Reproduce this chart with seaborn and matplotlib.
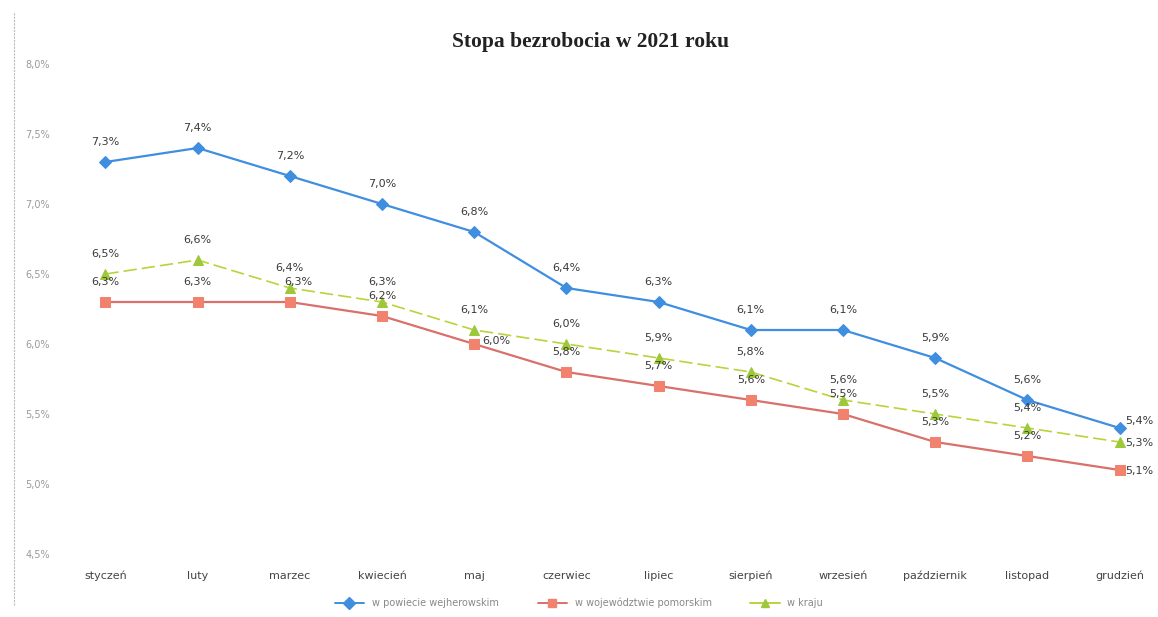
import numpy as np
import pandas as pd
import matplotlib
matplotlib.use("Agg")
import matplotlib.pyplot as plt
import seaborn as sns
from matplotlib.lines import Line2D

# ==========================
# DATA
# ==========================
months = ["styczeń", "luty", "marzec", "kwiecień", "maj", "czerwiec",
          "lipiec", "sierpień", "wrzesień", "październik", "listopad", "grudzień"]
powiat = [7.3, 7.4, 7.2, 7.0, 6.8, 6.4, 6.3, 6.1, 6.1, 5.9, 5.6, 5.4]
pomorskie = [6.3, 6.3, 6.3, 6.2, 6.0, 5.8, 5.7, 5.6, 5.5, 5.3, 5.2, 5.1]
kraj = [6.5, 6.6, 6.4, 6.3, 6.1, 6.0, 5.9, 5.8, 5.6, 5.5, 5.4, 5.3]
series_names = ["w powiecie wejherowskim", "w województwie pomorskim", "w kraju"]
y_ticks = [4.5, 5.0, 5.5, 6.0, 6.5, 7.0, 7.5, 8.0]

df = pd.DataFrame({
    "month": months * 3,
    "x": list(range(len(months))) * 3,
    "value": powiat + pomorskie + kraj,
    "series": [series_names[0]] * 12 + [series_names[1]] * 12 + [series_names[2]] * 12,
})

# ==========================
# STYLE
# ==========================
sns.set_style("white")
plt.rcParams["font.family"] = ["DejaVu Sans"]

colors = {series_names[0]: "#3f8ee0", series_names[1]: "#d9706b", series_names[2]: "#b9d43a"}
marker_fc = {series_names[0]: "#3f8ee0", series_names[1]: "#f0826e", series_names[2]: "#9cc83a"}
markers = {series_names[0]: "D", series_names[1]: "s", series_names[2]: "^"}

fig = plt.figure(figsize=(11.58, 6.17), dpi=100)
ax = fig.add_axes([75 / 1158, 1 - 554 / 617, (1150 - 75) / 1158, (554 - 64) / 617])

for name in series_names:
    sub = df[df["series"] == name]
    sns.lineplot(data=sub, x="x", y="value", ax=ax, color=colors[name],
                 linewidth=1.6 if name != series_names[2] else 1.2,
                 linestyle="-" if name != series_names[2] else (0, (8, 3)),
                 marker=markers[name], markersize=7 if name != series_names[0] else 6,
                 markerfacecolor=marker_fc[name], markeredgecolor=marker_fc[name],
                 label=name, legend=False)

# ==========================
# DATA LABELS
# ==========================
def fmt(v):
    return f"{v:.1f}%".replace(".", ",")

label_color = "#3a3a3a"
for name, vals in zip(series_names, [powiat, pomorskie, kraj]):
    for i, v in enumerate(vals):
        dx, dy, ha = 0, 11, "center"
        if i == len(vals) - 1:
            dx, dy, ha = 4, 5 if name == series_names[0] else -1, "left"
        if name == series_names[1] and i == 4:
            dx, dy, ha = 6, 2, "left"
        if name == series_names[1] and i == 2:
            dx = 6
        ax.annotate(fmt(v), (i, v), xytext=(dx, dy), textcoords="offset points",
                    ha=ha, va="bottom" if ha == "center" else "center",
                    fontsize=8, color=label_color)

# ==========================
# AXES
# ==========================
ax.set_xlim(-0.33, 11.33)
ax.set_ylim(4.5, 8.0)
ax.set_yticks(y_ticks)
ax.set_yticklabels([fmt(t) for t in y_ticks], fontsize=7, color="#9a9a9a")
ax.set_xticks(range(len(months)))
ax.set_xticklabels(months, fontsize=8, color="#444444")
ax.tick_params(axis="x", length=0, pad=12)
ax.tick_params(axis="y", length=0, pad=18)
ax.set_xlabel("")
ax.set_ylabel("")
for s in ax.spines.values():
    s.set_visible(False)

fig.text(0.51, 1 - 42 / 617, "Stopa bezrobocia w 2021 roku", ha="center", va="center",
         fontsize=15.5, fontweight="bold", family="Liberation Serif", color="#222222")

# left border line
fig.add_artist(Line2D([14 / 1158, 14 / 1158], [0.02, 0.98], color="#bbbbbb",
                      linewidth=0.8, linestyle=(0, (2, 1))))

# ==========================
# LEGEND
# ==========================
handles = [Line2D([0], [0], color=colors[n], marker=markers[n], markersize=6,
                  markerfacecolor=marker_fc[n], markeredgecolor=marker_fc[n],
                  linewidth=1.4) for n in series_names]
fig.legend(handles, series_names, loc="center", bbox_to_anchor=(0.5, 1 - 603 / 617),
           ncol=3, frameon=False, fontsize=7, labelcolor="#888888",
           columnspacing=4, handlelength=3)

plt.savefig("out.png", dpi=100)
plt.close()
